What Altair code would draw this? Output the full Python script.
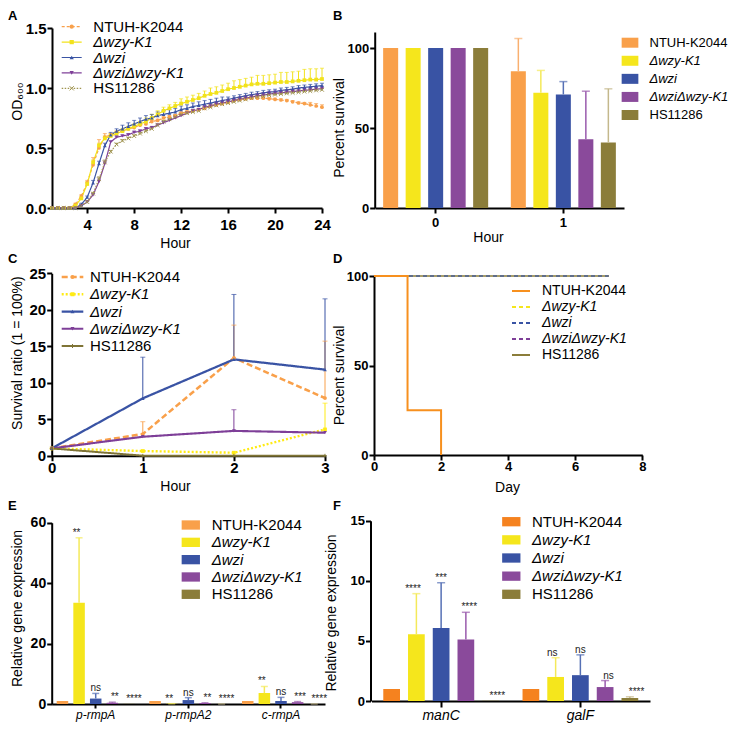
import altair as alt
import pandas as pd

W, H = 722, 715
FONT = "Liberation Sans"

STRAINS = ["NTUH-K2044", "Δwzy-K1", "Δwzi", "ΔwziΔwzy-K1", "HS11286"]

# ---------------- Panel A : growth curves ----------------
A_HOURS = [1, 1.5, 2, 2.5, 3, 3.5, 4, 4.5, 5, 5.5,
           6, 6.5, 7, 7.5, 8, 8.5, 9, 9.5, 10, 10.5,
           11, 11.5, 12, 12.5, 13, 13.5, 14, 14.5, 15, 15.5,
           16, 16.5, 17, 17.5, 18, 18.5, 19, 19.5, 20, 20.5,
           21, 21.5, 22, 22.5, 23, 23.5, 24]
A_NTUH = [0, 0, 0, 0, 0.03, 0.10, 0.21, 0.36, 0.50, 0.59,
          0.61, 0.63, 0.64, 0.66, 0.67, 0.69, 0.70, 0.72, 0.73, 0.75,
          0.76, 0.77, 0.79, 0.80, 0.81, 0.82, 0.83, 0.85, 0.86, 0.87,
          0.88, 0.895, 0.905, 0.91, 0.915, 0.915, 0.915, 0.91, 0.905, 0.90,
          0.895, 0.885, 0.875, 0.87, 0.86, 0.85, 0.84]
A_NTUH_ERR = [0, 0, 0, 0, 0.01, 0.01, 0.02, 0.06, 0.07, 0.03,
              0.01, 0.01, 0.01, 0.01, 0.01, 0.01, 0.01, 0.01, 0.01, 0.01,
              0.01, 0.01, 0.01, 0.01, 0.01, 0.01, 0.01, 0.01, 0.01, 0.01,
              0.01, 0.01, 0.01, 0.01, 0.01, 0.01, 0.01, 0.01, 0.01, 0.01,
              0.01, 0.01, 0.01, 0.01, 0.02, 0.02, 0.02]
A_WZY = [0, 0, 0, 0, 0.02, 0.08, 0.20, 0.38, 0.52, 0.58,
         0.60, 0.62, 0.64, 0.66, 0.68, 0.70, 0.72, 0.75, 0.78, 0.81,
         0.83, 0.85, 0.87, 0.885, 0.90, 0.915, 0.935, 0.95, 0.96, 0.975,
         0.99, 1.00, 1.01, 1.02, 1.03, 1.035, 1.035, 1.04, 1.045, 1.05,
         1.05, 1.055, 1.06, 1.065, 1.07, 1.07, 1.075]
A_WZY_ERR = [0, 0, 0, 0, 0.01, 0.01, 0.02, 0.02, 0.02, 0.02,
             0.02, 0.02, 0.02, 0.02, 0.02, 0.02, 0.03, 0.03, 0.03, 0.03,
             0.03, 0.03, 0.04, 0.04, 0.04, 0.04, 0.04, 0.05, 0.05, 0.05,
             0.05, 0.06, 0.06, 0.06, 0.06, 0.07, 0.07, 0.07, 0.07, 0.08,
             0.08, 0.08, 0.08, 0.09, 0.09, 0.09, 0.09]
A_WZI = [0, 0, 0, 0, 0, 0.03, 0.09, 0.21, 0.37, 0.52,
         0.61, 0.64, 0.66, 0.68, 0.70, 0.72, 0.74, 0.75, 0.77, 0.78,
         0.79, 0.80, 0.82, 0.83, 0.845, 0.855, 0.865, 0.875, 0.885, 0.895,
         0.905, 0.915, 0.925, 0.935, 0.945, 0.95, 0.96, 0.965, 0.97, 0.98,
         0.985, 0.99, 1.0, 1.005, 1.01, 1.015, 1.02]
A_WZI_ERR = [0, 0, 0, 0, 0, 0.01, 0.01, 0.02, 0.02, 0.02,
             0.02, 0.02, 0.03, 0.03, 0.03, 0.03, 0.03, 0.03, 0.03, 0.03,
             0.03, 0.03, 0.03, 0.03, 0.03, 0.03, 0.03, 0.03, 0.03, 0.03,
             0.02, 0.02, 0.02, 0.02, 0.02, 0.02, 0.02, 0.02, 0.02, 0.02,
             0.02, 0.02, 0.02, 0.02, 0.02, 0.02, 0.02]
A_DBL = [0, 0, 0, 0, 0, 0.02, 0.05, 0.11, 0.22, 0.37,
         0.55, 0.59, 0.60, 0.61, 0.63, 0.64, 0.66, 0.67, 0.69, 0.71,
         0.73, 0.75, 0.77, 0.79, 0.81, 0.82, 0.84, 0.85, 0.865, 0.875,
         0.885, 0.895, 0.905, 0.915, 0.925, 0.935, 0.94, 0.95, 0.955, 0.96,
         0.965, 0.97, 0.975, 0.98, 0.985, 0.99, 0.995]
A_DBL_ERR = [0, 0, 0, 0, 0, 0.01, 0.01, 0.01, 0.02, 0.02,
             0.01, 0.01, 0.01, 0.01, 0.01, 0.01, 0.01, 0.01, 0.01, 0.01,
             0.01, 0.01, 0.01, 0.01, 0.01, 0.01, 0.01, 0.02, 0.02, 0.02,
             0.02, 0.02, 0.02, 0.02, 0.02, 0.02, 0.02, 0.02, 0.02, 0.02,
             0.02, 0.02, 0.02, 0.02, 0.02, 0.02, 0.02]
A_HS = [0, 0, 0, 0, 0, 0.02, 0.05, 0.12, 0.24, 0.38,
        0.47, 0.53, 0.56, 0.58, 0.60, 0.62, 0.64, 0.66, 0.69, 0.72,
        0.74, 0.76, 0.78, 0.79, 0.80, 0.81, 0.83, 0.84, 0.855, 0.865,
        0.875, 0.885, 0.895, 0.905, 0.915, 0.925, 0.93, 0.94, 0.945, 0.95,
        0.955, 0.96, 0.965, 0.97, 0.975, 0.98, 0.985]
A_HS_ERR = [0, 0, 0, 0, 0, 0.01, 0.01, 0.01, 0.02, 0.02,
            0.01, 0.01, 0.01, 0.01, 0.01, 0.01, 0.01, 0.01, 0.01, 0.01,
            0.01, 0.01, 0.01, 0.01, 0.01, 0.01, 0.01, 0.01, 0.01, 0.01,
            0.01, 0.01, 0.01, 0.01, 0.01, 0.01, 0.01, 0.01, 0.01, 0.01,
            0.01, 0.01, 0.01, 0.01, 0.01, 0.01, 0.01]

# ---------------- Panel B : serum survival ----------------
B_HOURS = ["0", "1"]
B_H0 = [100, 100, 100, 100, 100]
B_H0_TOP = [100, 100, 100, 100, 100]
B_H1 = [85.5, 72, 71, 43, 41]
B_H1_TOP = [106, 86, 79, 73, 74.5]

# ---------------- Panel C : survival ratio ----------------
C_HOURS = [0, 1, 2, 3]
C_NTUH = [1, 2.97, 13.4, 7.9]
C_NTUH_TOP = [1, 4.66, 17.9, 15.7]
C_WZY = [1, 0.64, 0.41, 3.6]
C_WZY_TOP = [1, 0.64, 0.41, 7.2]
C_WZI = [1, 7.86, 13.2, 11.8]
C_WZI_TOP = [1, 13.5, 22.1, 21.5]
C_DBL = [1, 2.6, 3.4, 3.15]
C_DBL_TOP = [1, 2.6, 6.3, 3.15]
C_HS = [1, 0, 0, 0]
C_HS_TOP = [1, 0, 0, 0]

# ---------------- Panel D : mouse survival ----------------
D_NTUH_DAY = [0, 1, 2]
D_NTUH = [100, 25, 0]
D_WZY_DAY = [0, 7]
D_WZY = [100, 100]
D_WZI_DAY = [0, 7]
D_WZI = [100, 100]
D_DBL_DAY = [0, 7]
D_DBL = [100, 100]
D_HS_DAY = [0, 7]
D_HS = [100, 100]

# ---------------- Panel E : rmpA expression ----------------
E_GENES = ["p-rmpA", "p-rmpA2", "c-rmpA"]
E_PRMPA = [1, 33.5, 1.8, 0.4, 0.05]
E_PRMPA_TOP = [1, 55, 3.5, 0.6, 0.05]
E_PRMPA_SIG = ["", "**", "ns", "**", "****"]
E_PRMPA2 = [1, 0.05, 1.3, 0.3, 0.02]
E_PRMPA2_TOP = [1, 0.1, 2.1, 0.4, 0.03]
E_PRMPA2_SIG = ["", "**", "ns", "**", "****"]
E_CRMPA = [1, 3.6, 1.0, 0.6, 0.02]
E_CRMPA_TOP = [1, 5.8, 2.2, 0.8, 0.03]
E_CRMPA_SIG = ["", "**", "ns", "***", "****"]

# ---------------- Panel F : CPS gene expression ----------------
F_GENES = ["manC", "galF"]
F_MANC = [1, 5.55, 6.08, 5.12, 0.02]
F_MANC_TOP = [1, 8.93, 9.84, 7.38, 0.02]
F_MANC_SIG = ["", "****", "***", "****", "****"]
F_GALF = [1, 2.0, 2.15, 1.16, 0.25]
F_GALF_TOP = [1, 3.6, 3.84, 1.7, 0.35]
F_GALF_SIG = ["", "ns", "ns", "ns", "****"]

# ---------------- styles ----------------
COL_A = ["#F8A04B", "#F2E21B", "#3A54A4", "#7E3F98", "#A09450"]
COL_B = ["#F9A04A", "#F5E61C", "#3953A4", "#8A4A9B", "#8B7D3A"]
ERR_B = ["#F9B070", "#F4E95A", "#5670B5", "#9A5BAD", "#C4B88C"]
COL_C = ["#F9A04A", "#FFEB14", "#3953A4", "#7E3F98", "#7F7436"]
COL_D = ["#F7901E", "#F5E61C", "#3953A4", "#7E3F98", "#8B7D3A"]
COL_E = ["#F9A04A", "#F5E61C", "#3953A4", "#8A4A9B", "#8B7D3A"]
COL_F = ["#F5821F", "#F5E61C", "#3953A4", "#8A4A9B", "#8B7D3A"]
X_PATH = "M-1,-1L1,1M-1,1L1,-1"
PLUS_PATH = "M-1,0L1,0M0,-1L0,1"


def lin(domain, rng):
    return alt.Scale(domain=domain, range=rng, nice=False, zero=False)


def xaxis(axis_y, **kw):
    return alt.Axis(orient="bottom", offset=axis_y - H, **kw)


def yaxis(axis_x, **kw):
    return alt.Axis(orient="left", offset=-axis_x, **kw)


# ---------------- legends ----------------
LEG = pd.DataFrame({"row": list(range(5)), "label": STRAINS,
                    "italic": [s.startswith("Δ") for s in STRAINS]})


def leg_y(y0, y1):
    return alt.Y("row:Q", scale=lin([0, 4], [y0, y1]), axis=None)


def leg_texts(x, y0, y1, size):
    out = []
    for ital in (False, True):
        out.append(
            alt.Chart(LEG)
            .transform_filter("datum.italic" if ital else "!datum.italic")
            .mark_text(align="left", baseline="middle", font=FONT, fontSize=size,
                       fontStyle="italic" if ital else "normal", color="black")
            .encode(x=alt.value(x), y=leg_y(y0, y1), text="label:N")
        )
    return out


def leg_lines(x0, x1, y0, y1, cols, dashes, widths, shapes4=None, hs_path=None, msize=20):
    color = alt.Color("label:O", scale=alt.Scale(domain=STRAINS, range=cols), legend=None)
    out = [
        alt.Chart(LEG).mark_rule().encode(
            x=alt.value(x0), x2=alt.value(x1), y=leg_y(y0, y1), color=color,
            strokeDash=alt.StrokeDash("label:O", scale=alt.Scale(domain=STRAINS, range=dashes), legend=None),
            strokeWidth=alt.StrokeWidth("label:O", scale=alt.Scale(domain=STRAINS, range=widths), legend=None),
        )
    ]
    xm = (x0 + x1) / 2
    if shapes4:
        out.append(
            alt.Chart(LEG).transform_filter("datum.row < 4")
            .mark_point(filled=True, size=msize, opacity=1)
            .encode(x=alt.value(xm), y=leg_y(y0, y1), color=color,
                    shape=alt.Shape("label:O", scale=alt.Scale(domain=STRAINS[:4], range=shapes4), legend=None))
        )
    if hs_path:
        out.append(
            alt.Chart(LEG).transform_filter("datum.row == 4")
            .mark_point(shape=hs_path, size=msize, filled=False, strokeWidth=1, opacity=1)
            .encode(x=alt.value(xm), y=leg_y(y0, y1), color=color)
        )
    return out


def leg_rects(cx, y0, y1, cols, w, h):
    path = "M-1,%sL1,%sL1,%sL-1,%sZ" % (-h / w, -h / w, h / w, h / w)
    return [
        alt.Chart(LEG).mark_point(shape=path, size=w * w, filled=True, opacity=1)
        .encode(x=alt.value(cx), y=leg_y(y0, y1),
                color=alt.Color("label:O", scale=alt.Scale(domain=STRAINS, range=cols), legend=None))
    ]


# ---------------- panel builders ----------------
def line_panel(df, sx, sy, cols, dashes, widths, shapes4, hs_path, msize, cap, x_axis, y_axis):
    color = alt.Color("strain:O", scale=alt.Scale(domain=STRAINS, range=cols), legend=None)
    base = alt.Chart(df)
    xn = alt.X("t:Q", scale=sx, axis=None)
    yn = alt.Y("v:Q", scale=sy, axis=None)
    lines = base.mark_line().encode(
        x=alt.X("t:Q", scale=sx, axis=x_axis), y=alt.Y("v:Q", scale=sy, axis=y_axis), color=color,
        strokeDash=alt.StrokeDash("strain:O", scale=alt.Scale(domain=STRAINS, range=dashes), legend=None),
        strokeWidth=alt.StrokeWidth("strain:O", scale=alt.Scale(domain=STRAINS, range=widths), legend=None),
    )
    err = base.transform_filter("datum.top > datum.v").mark_rule(strokeWidth=1).encode(
        x=xn, y=yn, y2="top:Q", color=color)
    caps = base.transform_filter("datum.top > datum.v").mark_tick(
        orient="horizontal", size=cap, thickness=1).encode(
        x=xn, y=alt.Y("top:Q", scale=sy, axis=None), color=color)
    pts = base.transform_filter(alt.FieldOneOfPredicate(field="strain", oneOf=STRAINS[:4])).mark_point(
        filled=True, size=msize, opacity=1).encode(
        x=xn, y=yn, color=color,
        shape=alt.Shape("strain:O", scale=alt.Scale(domain=STRAINS[:4], range=shapes4), legend=None))
    hs = base.transform_filter(alt.FieldEqualPredicate(field="strain", equal=STRAINS[4])).mark_point(
        shape=hs_path, size=msize, filled=False, strokeWidth=1, opacity=1).encode(x=xn, y=yn, color=color)
    return [lines, err, caps, pts, hs]


def bar_panel(df, sx, so, sy, cols, errcols, cap, x_axis, y_axis, ann=False):
    base = alt.Chart(df)
    xn = alt.X("grp:N", scale=sx, axis=None)
    on = alt.XOffset("strain:N", scale=so)
    color = alt.Color("strain:N", scale=alt.Scale(domain=STRAINS, range=cols), legend=None)
    ecolor = alt.Color("strain:N", scale=alt.Scale(domain=STRAINS, range=errcols), legend=None)
    bars = base.mark_bar().encode(
        x=alt.X("grp:N", scale=sx, axis=x_axis), xOffset=on,
        y=alt.Y("v:Q", scale=sy, axis=y_axis, stack=None), color=color)
    err = base.transform_filter("datum.top > datum.v").mark_rule(strokeWidth=1.5).encode(
        x=xn, xOffset=on, y=alt.Y("v:Q", scale=sy, axis=None), y2="top:Q", color=ecolor)
    caps = base.transform_filter("datum.top > datum.v").mark_tick(
        orient="horizontal", size=cap, thickness=1.5).encode(
        x=xn, xOffset=on, y=alt.Y("top:Q", scale=sy, axis=None), color=ecolor)
    out = [bars, err, caps]
    if ann:
        out.append(
            base.transform_filter("datum.sig != ''").mark_text(
                fontSize=10, baseline="alphabetic", dy=-2, font=FONT, color="#222222").encode(
                x=xn, xOffset=on, y=alt.Y("top:Q", scale=sy, axis=None), text="sig:N"))
    return out


def letter(ch, x, y):
    return alt.Chart(pd.DataFrame({"k": [0]})).mark_text(
        text=ch, align="left", baseline="top", fontSize=13, fontWeight="bold", font=FONT,
        color="black").encode(x=alt.value(x), y=alt.value(y))


layers = []

# ---- A ----
rows = []
for s, vals, errs in zip(STRAINS, [A_NTUH, A_WZY, A_WZI, A_DBL, A_HS],
                         [A_NTUH_ERR, A_WZY_ERR, A_WZI_ERR, A_DBL_ERR, A_HS_ERR]):
    for t, v, e in zip(A_HOURS, vals, errs):
        rows.append({"strain": s, "t": t, "v": v, "top": v + e})
dfA = pd.DataFrame(rows)
layers += line_panel(
    dfA, lin([1, 24], [44, 314]), lin([0, 1.5], [200, 20]), COL_A,
    [[3, 2], [1, 0], [1, 0], [1, 0], [1.5, 1.5]], [1.2, 1.2, 1.2, 1.2, 1.2],
    ["circle", "square", "triangle-up", "triangle-down"], X_PATH, 14, 4,
    xaxis(200, values=[4, 8, 12, 16, 20, 24], title="Hour", titleX=167, titleY=28,
          labelFontSize=15, labelPadding=4),
    yaxis(44, values=[0, 0.5, 1, 1.5], format=".1f", title="OD₆₀₀", titleX=-28, titleY=93,
          labelFontSize=15, labelPadding=1),
)
layers += leg_lines(53.7, 73.7, 18.7, 80.3, COL_A, [[3, 2], [1, 0], [1, 0], [1, 0], [1.5, 1.5]],
                    [1.2, 1.2, 1.2, 1.2, 1.2], ["circle", "square", "triangle-up", "triangle-down"], X_PATH, 18)
layers += leg_texts(85.3, 18.7, 80.3, 15)

# ---- B ----
rows = []
for h, vals, tops in zip(B_HOURS, [B_H0, B_H1], [B_H0_TOP, B_H1_TOP]):
    for s, v, tp in zip(STRAINS, vals, tops):
        rows.append({"grp": h, "strain": s, "v": v, "top": tp})
dfB = pd.DataFrame(rows)
layers += bar_panel(
    dfB, alt.Scale(domain=B_HOURS, range=[367, 616], paddingInner=0.1, paddingOuter=0.025),
    alt.Scale(domain=STRAINS, paddingInner=0.333, paddingOuter=0.22),
    lin([0, 110], [200, 24]), COL_B, ERR_B, 8,
    xaxis(200, title="Hour", labelAngle=0, titleX=480, titleY=22, labelFontSize=13, labelPadding=3),
    yaxis(366.7, values=[0, 50, 100], title="Percent survival", titleX=-28.7, titleY=119.5,
          labelFontSize=13, labelPadding=1),
)
layers += leg_rects(622, 34.7, 107, COL_B, 16.7, 10)
layers += leg_texts(641.5, 34.7, 107, 13)

# ---- C ----
rows = []
for s, vals, tops in zip(STRAINS, [C_NTUH, C_WZY, C_WZI, C_DBL, C_HS],
                         [C_NTUH_TOP, C_WZY_TOP, C_WZI_TOP, C_DBL_TOP, C_HS_TOP]):
    for t, v, tp in zip(C_HOURS, vals, tops):
        rows.append({"strain": s, "t": t, "v": v, "top": tp})
dfC = pd.DataFrame(rows)
C_DASH = [[6, 3], [2, 2], [1, 0], [1, 0], [1, 0]]
C_W = [2.5, 2, 1, 1, 2]
layers += line_panel(
    dfC, lin([0, 3], [43.7, 317]), lin([0, 25], [447.7, 265.3]), COL_C, C_DASH, C_W,
    ["circle", "square", "triangle-up", "triangle-down"], PLUS_PATH, 14, 5,
    xaxis(447.7, values=[0, 1, 2, 3], title="Hour", titleX=167, titleY=24,
          labelFontSize=15, labelPadding=0),
    yaxis(43.7, values=[0, 5, 10, 15, 20, 25], title="Survival ratio (1 = 100%)",
          titleX=-27.5, titleY=344.6, labelFontSize=15, labelPadding=1),
)
layers += leg_lines(53.7, 75.3, 269, 338, COL_C, C_DASH, C_W,
                    ["circle", "square", "triangle-up", "triangle-down"], PLUS_PATH, 16)
layers += leg_texts(82, 269, 338, 15)

# ---- D ----
sxD = lin([0, 8], [366, 634.3])
syD = lin([0, 100], [447, 268])
D_DASH = [[1, 0], [4, 3], [4, 3], [4, 3], [1, 0]]
order = [4, 3, 1, 2, 0]
d_series = [(D_NTUH_DAY, D_NTUH), (D_WZY_DAY, D_WZY), (D_WZI_DAY, D_WZI), (D_DBL_DAY, D_DBL), (D_HS_DAY, D_HS)]
for k, i in enumerate(order):
    days, vals = d_series[i]
    dfd = pd.DataFrame({"t": days, "v": vals, "strain": STRAINS[i]})
    ax_x = xaxis(447, values=[0, 2, 4, 6, 8], title="Day", titleX=499, titleY=25,
                 labelFontSize=13, labelPadding=0) if k == 0 else None
    ax_y = yaxis(366, values=[0, 50, 100], title="Percent survival", titleX=-28, titleY=367,
                 labelFontSize=13, labelPadding=1) if k == 0 else None
    layers.append(
        alt.Chart(dfd).mark_line(interpolate="step-after", color=COL_D[i], strokeWidth=2 if i == 0 else 1.6,
                                 strokeDash=D_DASH[i]).encode(
            x=alt.X("t:Q", scale=sxD, axis=ax_x), y=alt.Y("v:Q", scale=syD, axis=ax_y))
    )
layers += leg_lines(504, 522, 283, 347, COL_D, D_DASH, [2, 2, 2, 2, 2])
layers += leg_texts(534, 283, 347, 14)

# ---- E ----
rows = []
for g, vals, tops, sigs in zip(E_GENES, [E_PRMPA, E_PRMPA2, E_CRMPA],
                               [E_PRMPA_TOP, E_PRMPA2_TOP, E_CRMPA_TOP],
                               [E_PRMPA_SIG, E_PRMPA2_SIG, E_CRMPA_SIG]):
    for s, v, tp, sg in zip(STRAINS, vals, tops, sigs):
        rows.append({"grp": g, "strain": s, "v": v, "top": tp, "sig": sg})
dfE = pd.DataFrame(rows)
layers += bar_panel(
    dfE, alt.Scale(domain=E_GENES, range=[43.7, 317], paddingInner=0.05, paddingOuter=0.0),
    alt.Scale(domain=STRAINS, paddingInner=0.307, paddingOuter=0.30),
    lin([0, 60], [696, 514.7]), COL_E, ERR_B, 7,
    xaxis(696, labelFontSize=12, labelFontWeight="normal", labelFontStyle="italic", labelPadding=1,
          tickSize=4, title=None, labelAngle=0),
    yaxis(43.7, values=[0, 20, 40, 60], title="Relative gene expression", titleX=-27.5, titleY=600,
          labelFontSize=14, labelPadding=1),
    ann=True,
)
layers += leg_rects(182.8, 517, 586.3, COL_E, 18.3, 9.3)
layers += leg_texts(203.7, 517, 586.3, 15)

# ---- F ----
rows = []
for g, vals, tops, sigs in zip(F_GENES, [F_MANC, F_GALF], [F_MANC_TOP, F_GALF_TOP], [F_MANC_SIG, F_GALF_SIG]):
    for s, v, tp, sg in zip(STRAINS, vals, tops, sigs):
        rows.append({"grp": g, "strain": s, "v": v, "top": tp, "sig": sg})
dfF = pd.DataFrame(rows)
layers += bar_panel(
    dfF, alt.Scale(domain=F_GENES, range=[363.5, 642], paddingInner=0.0, paddingOuter=0.0),
    alt.Scale(domain=STRAINS, paddingInner=0.324, paddingOuter=0.476),
    lin([0, 15], [693, 512.7]), COL_F, ERR_B, 8,
    xaxis(693, labelFontSize=14, labelFontWeight="normal", labelFontStyle="italic", labelPadding=1,
          tickSize=6, title=None, labelAngle=0),
    yaxis(362.5, values=[0, 5, 10, 15], title="Relative gene expression", titleX=-32, titleY=604.5,
          labelFontSize=13, labelPadding=1),
    ann=True,
)
layers += leg_rects(503.3, 513.7, 586.3, COL_F, 18.3, 9.3)
layers += leg_texts(524, 513.7, 586.3, 15)

# ---- panel letters ----
for ch, x, y in [("A", 0, 2), ("B", 325, 2), ("C", 0, 245), ("D", 325, 245), ("E", 0, 492), ("F", 325, 492)]:
    layers.append(letter(ch, x, y))

chart = (
    alt.layer(*layers)
    .resolve_scale(x="independent", y="independent", color="independent", xOffset="independent",
                   strokeDash="independent", shape="independent", strokeWidth="independent")
    .resolve_axis(x="independent", y="independent")
    .properties(width=W, height=H, padding=0, autosize=alt.AutoSizeParams(type="none"))
    .configure_view(stroke=None)
    .configure_axis(labelFont=FONT, titleFont=FONT, labelFontWeight="bold", titleFontWeight="normal",
                    titleFontSize=14, domainColor="black", tickColor="black", labelColor="black",
                    titleColor="black", domainWidth=2, tickWidth=2, tickSize=5, grid=False,
                    labelOverlap=False, labelFlush=False)
)
chart.save("out.html", embed_options={"renderer": "svg", "actions": False})
